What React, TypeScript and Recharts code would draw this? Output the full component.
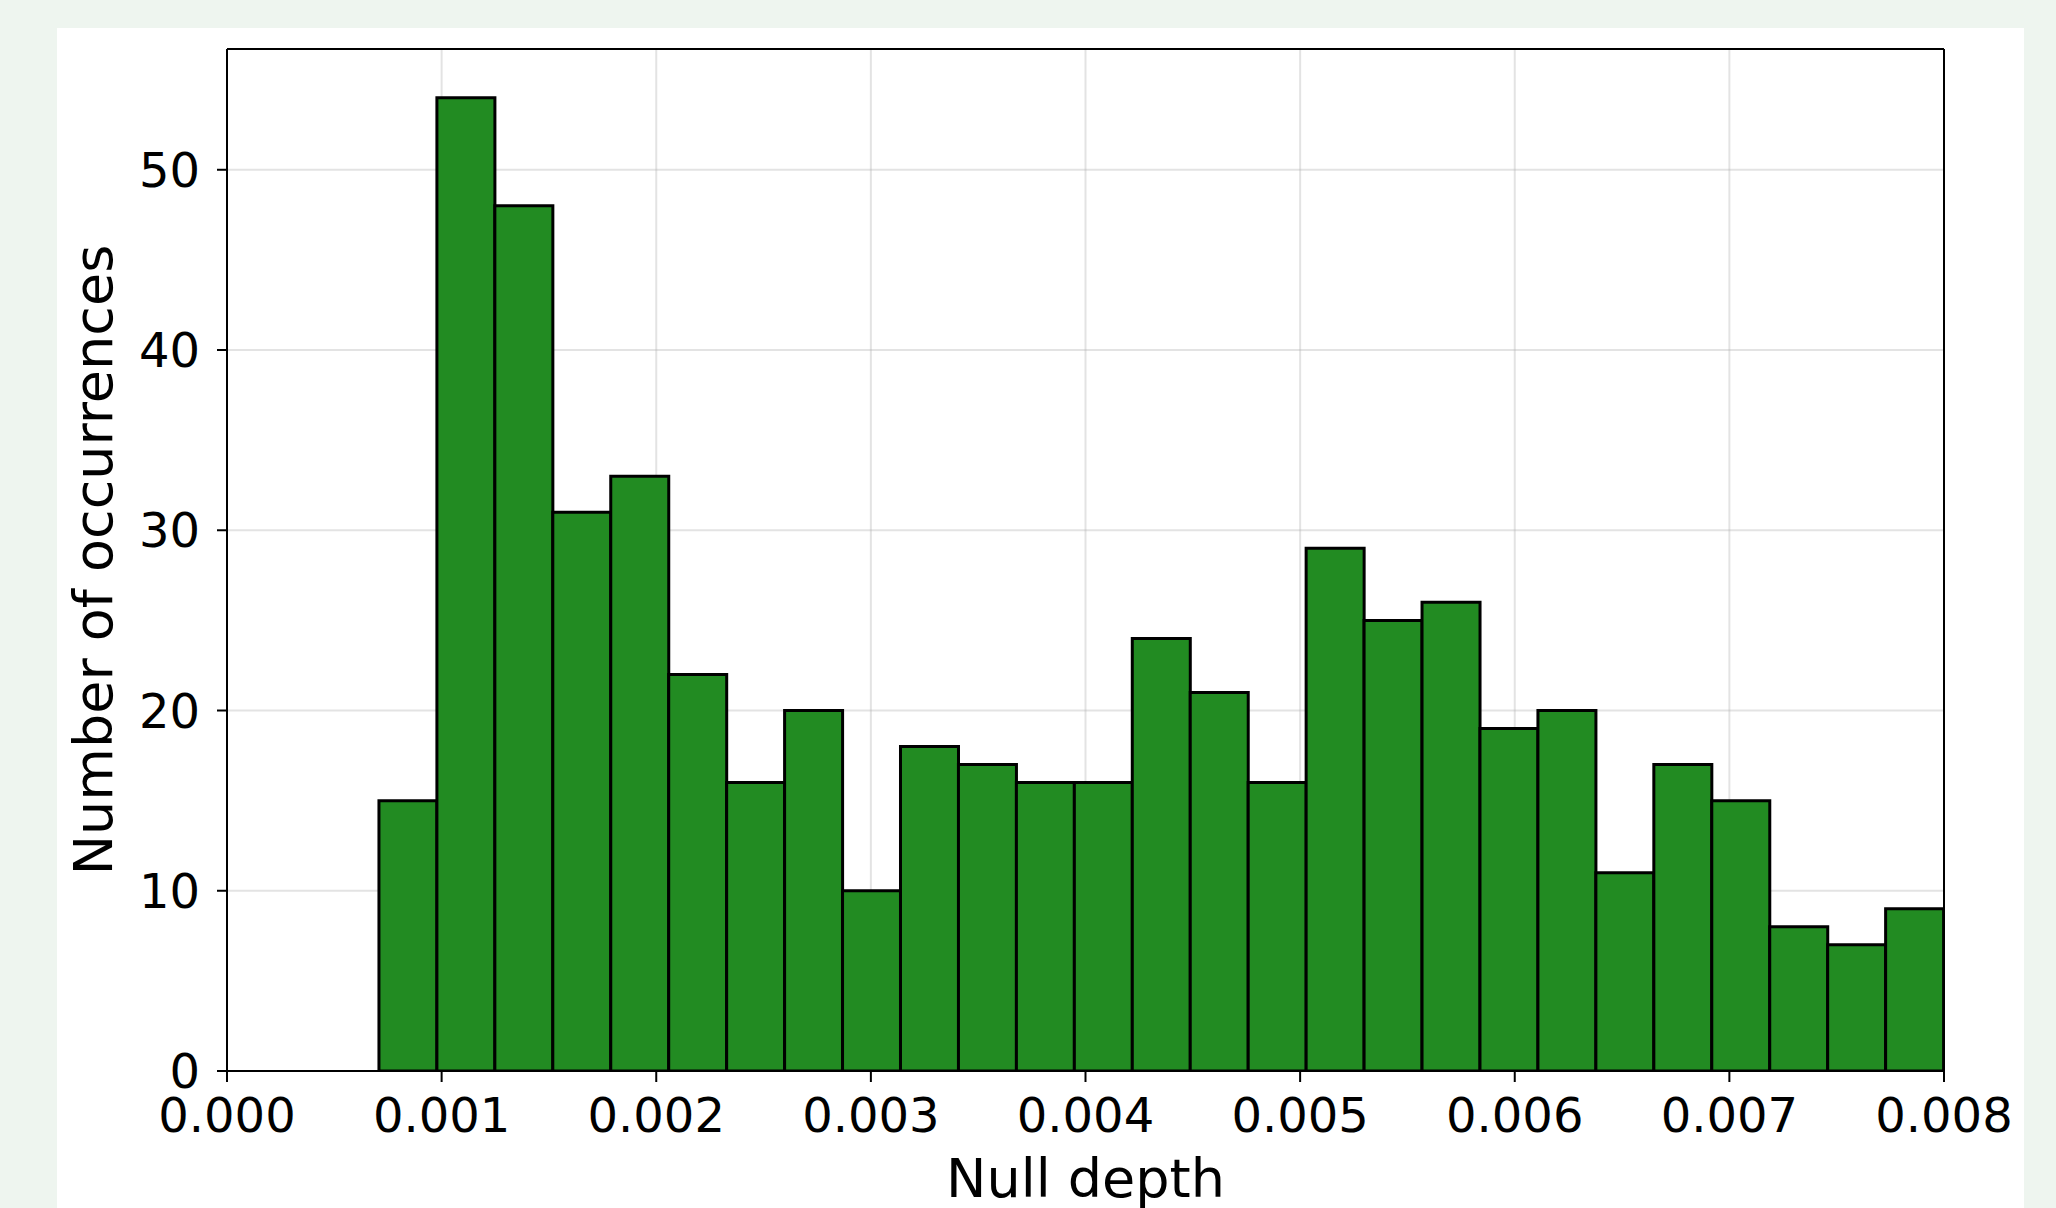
import {
	Bar,
	CartesianGrid,
	ComposedChart,
	ReferenceLine,
	XAxis,
	YAxis,
} from "recharts";

// histogram of null depths, 27 equal bins
const binStart = 0.000708;
const binWidth = 0.00027;
const counts = [
	15, 54, 48, 31, 33, 22, 16, 20, 10, 18, 17, 16, 16, 24, 21, 16, 29, 25, 26,
	19, 20, 11, 17, 15, 8, 7, 9,
];
const xTicks = [0, 0.001, 0.002, 0.003, 0.004, 0.005, 0.006, 0.007, 0.008];
const yTicks = [0, 10, 20, 30, 40, 50];
const xMax = 0.008;
const yMax = 56.7;

const data = counts.map((count, i) => ({
	mid: binStart + (i + 0.5) * binWidth,
	count,
}));

const font = "DejaVu Sans";

function YLabel({ viewBox }: { viewBox?: { x: number; y: number; width: number; height: number } }) {
	if (!viewBox) return null;
	const x = viewBox.x + 112;
	const y = viewBox.y + viewBox.height / 2;
	return (
		<text
			x={x}
			y={y}
			transform={`rotate(-90 ${x} ${y})`}
			textAnchor="middle"
			fontFamily={font}
			fontSize={54}
			fill="#000"
		>
			Number of occurrences
		</text>
	);
}

export default function App() {
	return (
		<div
			style={{
				position: "relative",
				width: 2056,
				height: 1208,
				background: "#eef5ef",
				overflow: "hidden",
			}}
		>
			<style>{"body{margin:0}"}</style>
			<div
				style={{
					position: "absolute",
					left: 57,
					top: 28,
					width: 1967,
					height: 1180,
					background: "#fff",
				}}
			/>
			<div style={{ position: "absolute", left: 0, top: 0 }}>
				<ComposedChart
					width={2056}
					height={1208}
					data={data}
					margin={{ top: 49, right: 112, bottom: 0, left: 0 }}
					barCategoryGap={0}
					barGap={0}
				>
					<Bar
						dataKey="count"
						fill="#228b22"
						stroke="#000"
						strokeWidth={3}
						isAnimationActive={false}
					/>
					<CartesianGrid
						stroke="#b0b0b0"
						strokeOpacity={0.35}
						strokeWidth={2}
						horizontalValues={yTicks}
						verticalValues={xTicks}
					/>
					<ReferenceLine y={yMax} stroke="#000" strokeWidth={2} />
					<ReferenceLine x={xMax} stroke="#000" strokeWidth={2} />
					<XAxis
						dataKey="mid"
						type="number"
						domain={[0, xMax]}
						ticks={xTicks}
						allowDataOverflow
						tickFormatter={(v: number) => v.toFixed(3)}
						height={137}
						tickSize={11}
						tickMargin={16}
						interval={0}
						stroke="#000"
						strokeWidth={2}
						tick={{ fontSize: 48, fill: "#000", fontFamily: font }}
						label={{
							value: "Null depth",
							position: "insideBottom",
							offset: 11,
							fontSize: 54,
							fill: "#000",
							fontFamily: font,
						}}
					/>
					<YAxis
						type="number"
						domain={[0, yMax]}
						ticks={yTicks}
						allowDataOverflow
						width={227}
						tickSize={10}
						tickMargin={17}
						interval={0}
						stroke="#000"
						strokeWidth={2}
						tick={{ fontSize: 48, fill: "#000", fontFamily: font }}
						label={<YLabel />}
					/>
				</ComposedChart>
			</div>
		</div>
	);
}
